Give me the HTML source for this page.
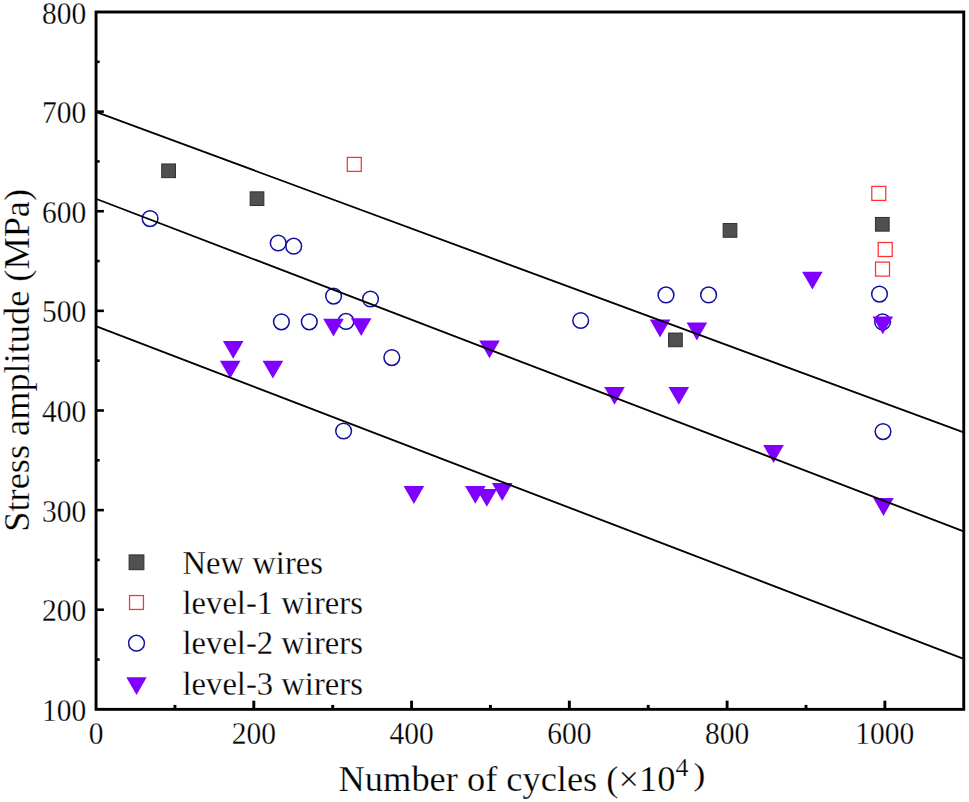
<!DOCTYPE html>
<html><head><meta charset="utf-8"><style>
html,body{margin:0;padding:0;background:#fff;}
body{width:969px;height:802px;overflow:hidden;}
svg{display:block;font-family:"Liberation Serif",serif;}
text{stroke:#fff;stroke-width:0.25px;}
</style></head><body>
<svg width="969" height="802" viewBox="0 0 969 802">
<rect x="96.05" y="12.0" width="867.70" height="697.35" fill="none" stroke="#000" stroke-width="2.9"/>
<line x1="174.93" y1="709.35" x2="174.93" y2="704.90" stroke="#000" stroke-width="2.9"/>
<line x1="253.81" y1="709.35" x2="253.81" y2="700.65" stroke="#000" stroke-width="2.9"/>
<line x1="332.70" y1="709.35" x2="332.70" y2="704.90" stroke="#000" stroke-width="2.9"/>
<line x1="411.58" y1="709.35" x2="411.58" y2="700.65" stroke="#000" stroke-width="2.9"/>
<line x1="490.46" y1="709.35" x2="490.46" y2="704.90" stroke="#000" stroke-width="2.9"/>
<line x1="569.34" y1="709.35" x2="569.34" y2="700.65" stroke="#000" stroke-width="2.9"/>
<line x1="648.22" y1="709.35" x2="648.22" y2="704.90" stroke="#000" stroke-width="2.9"/>
<line x1="727.10" y1="709.35" x2="727.10" y2="700.65" stroke="#000" stroke-width="2.9"/>
<line x1="805.99" y1="709.35" x2="805.99" y2="704.90" stroke="#000" stroke-width="2.9"/>
<line x1="884.87" y1="709.35" x2="884.87" y2="700.65" stroke="#000" stroke-width="2.9"/>
<line x1="96.05" y1="659.54" x2="99.65" y2="659.54" stroke="#000" stroke-width="2.6"/>
<line x1="96.05" y1="609.73" x2="103.90" y2="609.73" stroke="#000" stroke-width="2.6"/>
<line x1="96.05" y1="559.92" x2="99.65" y2="559.92" stroke="#000" stroke-width="2.6"/>
<line x1="96.05" y1="510.11" x2="103.90" y2="510.11" stroke="#000" stroke-width="2.6"/>
<line x1="96.05" y1="460.30" x2="99.65" y2="460.30" stroke="#000" stroke-width="2.6"/>
<line x1="96.05" y1="410.49" x2="103.90" y2="410.49" stroke="#000" stroke-width="2.6"/>
<line x1="96.05" y1="360.68" x2="99.65" y2="360.68" stroke="#000" stroke-width="2.6"/>
<line x1="96.05" y1="310.86" x2="103.90" y2="310.86" stroke="#000" stroke-width="2.6"/>
<line x1="96.05" y1="261.05" x2="99.65" y2="261.05" stroke="#000" stroke-width="2.6"/>
<line x1="96.05" y1="211.24" x2="103.90" y2="211.24" stroke="#000" stroke-width="2.6"/>
<line x1="96.05" y1="161.43" x2="99.65" y2="161.43" stroke="#000" stroke-width="2.6"/>
<line x1="96.05" y1="111.62" x2="103.90" y2="111.62" stroke="#000" stroke-width="2.6"/>
<line x1="96.05" y1="61.81" x2="99.65" y2="61.81" stroke="#000" stroke-width="2.6"/>
<rect x="161.75" y="163.95" width="13.70" height="13.70" fill="#505050" stroke="#2e2e2e" stroke-width="1"/>
<rect x="250.15" y="191.85" width="13.70" height="13.70" fill="#505050" stroke="#2e2e2e" stroke-width="1"/>
<rect x="723.15" y="223.55" width="13.70" height="13.70" fill="#505050" stroke="#2e2e2e" stroke-width="1"/>
<rect x="668.55" y="333.05" width="13.70" height="13.70" fill="#505050" stroke="#2e2e2e" stroke-width="1"/>
<rect x="875.45" y="217.45" width="13.70" height="13.70" fill="#505050" stroke="#2e2e2e" stroke-width="1"/>
<rect x="347.30" y="157.40" width="14.00" height="14.00" fill="none" stroke="#ff3030" stroke-width="1.25"/>
<rect x="871.80" y="186.40" width="14.00" height="14.00" fill="none" stroke="#ff3030" stroke-width="1.25"/>
<rect x="878.20" y="242.50" width="14.00" height="14.00" fill="none" stroke="#ff3030" stroke-width="1.25"/>
<rect x="875.50" y="262.10" width="14.00" height="14.00" fill="none" stroke="#ff3030" stroke-width="1.25"/>
<circle cx="150.10" cy="218.60" r="7.85" fill="none" stroke="#1010a0" stroke-width="1.5"/>
<circle cx="278.20" cy="243.00" r="7.85" fill="none" stroke="#1010a0" stroke-width="1.5"/>
<circle cx="293.70" cy="246.20" r="7.85" fill="none" stroke="#1010a0" stroke-width="1.5"/>
<circle cx="333.60" cy="296.10" r="7.85" fill="none" stroke="#1010a0" stroke-width="1.5"/>
<circle cx="370.50" cy="299.00" r="7.85" fill="none" stroke="#1010a0" stroke-width="1.5"/>
<circle cx="281.40" cy="321.80" r="7.85" fill="none" stroke="#1010a0" stroke-width="1.5"/>
<circle cx="309.30" cy="321.80" r="7.85" fill="none" stroke="#1010a0" stroke-width="1.5"/>
<circle cx="346.00" cy="321.40" r="7.85" fill="none" stroke="#1010a0" stroke-width="1.5"/>
<circle cx="391.80" cy="357.60" r="7.85" fill="none" stroke="#1010a0" stroke-width="1.5"/>
<circle cx="343.60" cy="431.00" r="7.85" fill="none" stroke="#1010a0" stroke-width="1.5"/>
<circle cx="580.70" cy="320.50" r="7.85" fill="none" stroke="#1010a0" stroke-width="1.5"/>
<circle cx="666.00" cy="294.90" r="7.85" fill="none" stroke="#1010a0" stroke-width="1.5"/>
<circle cx="708.60" cy="294.90" r="7.85" fill="none" stroke="#1010a0" stroke-width="1.5"/>
<circle cx="879.50" cy="294.10" r="7.85" fill="none" stroke="#1010a0" stroke-width="1.5"/>
<circle cx="882.60" cy="321.90" r="7.85" fill="none" stroke="#1010a0" stroke-width="1.5"/>
<circle cx="883.00" cy="431.60" r="7.85" fill="none" stroke="#1010a0" stroke-width="1.5"/>
<polygon points="323.20,318.70 343.80,318.70 333.50,336.50" fill="#8000ff"/>
<polygon points="350.90,318.20 371.50,318.20 361.20,336.00" fill="#8000ff"/>
<polygon points="222.90,340.90 243.50,340.90 233.20,358.70" fill="#8000ff"/>
<polygon points="219.90,360.70 240.50,360.70 230.20,378.50" fill="#8000ff"/>
<polygon points="262.60,360.70 283.20,360.70 272.90,378.50" fill="#8000ff"/>
<polygon points="479.20,340.50 499.80,340.50 489.50,358.30" fill="#8000ff"/>
<polygon points="403.60,486.10 424.20,486.10 413.90,503.90" fill="#8000ff"/>
<polygon points="465.00,486.00 485.60,486.00 475.30,503.80" fill="#8000ff"/>
<polygon points="476.50,489.00 497.10,489.00 486.80,506.80" fill="#8000ff"/>
<polygon points="491.90,483.10 512.50,483.10 502.20,500.90" fill="#8000ff"/>
<polygon points="802.10,271.80 822.70,271.80 812.40,289.60" fill="#8000ff"/>
<polygon points="649.80,319.60 670.40,319.60 660.10,337.40" fill="#8000ff"/>
<polygon points="686.60,322.60 707.20,322.60 696.90,340.40" fill="#8000ff"/>
<polygon points="604.20,386.90 624.80,386.90 614.50,404.70" fill="#8000ff"/>
<polygon points="668.50,386.90 689.10,386.90 678.80,404.70" fill="#8000ff"/>
<polygon points="763.20,445.10 783.80,445.10 773.50,462.90" fill="#8000ff"/>
<polygon points="872.50,316.40 893.10,316.40 882.80,334.20" fill="#8000ff"/>
<polygon points="873.20,498.10 893.80,498.10 883.50,515.90" fill="#8000ff"/>
<line x1="96.5" y1="112.2" x2="963" y2="432.2" stroke="#000" stroke-width="1.85"/>
<line x1="96.5" y1="199" x2="963" y2="531.1" stroke="#000" stroke-width="1.85"/>
<line x1="96.5" y1="326.4" x2="963" y2="658.6" stroke="#000" stroke-width="1.85"/>
<text transform="translate(96.05,744.0) scale(1,1.035)" text-anchor="middle" font-size="29.5">0</text>
<text transform="translate(253.81,744.0) scale(1,1.035)" text-anchor="middle" font-size="29.5">200</text>
<text transform="translate(411.58,744.0) scale(1,1.035)" text-anchor="middle" font-size="29.5">400</text>
<text transform="translate(569.34,744.0) scale(1,1.035)" text-anchor="middle" font-size="29.5">600</text>
<text transform="translate(727.10,744.0) scale(1,1.035)" text-anchor="middle" font-size="29.5">800</text>
<text transform="translate(884.87,744.0) scale(1,1.035)" text-anchor="middle" font-size="29.5">1000</text>
<text transform="translate(86.3,720.85) scale(1,1.035)" text-anchor="end" font-size="29.5">100</text>
<text transform="translate(86.3,621.23) scale(1,1.035)" text-anchor="end" font-size="29.5">200</text>
<text transform="translate(86.3,521.61) scale(1,1.035)" text-anchor="end" font-size="29.5">300</text>
<text transform="translate(86.3,421.99) scale(1,1.035)" text-anchor="end" font-size="29.5">400</text>
<text transform="translate(86.3,322.36) scale(1,1.035)" text-anchor="end" font-size="29.5">500</text>
<text transform="translate(86.3,222.74) scale(1,1.035)" text-anchor="end" font-size="29.5">600</text>
<text transform="translate(86.3,123.12) scale(1,1.035)" text-anchor="end" font-size="29.5">700</text>
<text transform="translate(86.3,23.50) scale(1,1.035)" text-anchor="end" font-size="29.5">800</text>
<rect x="129.10" y="554.90" width="14.80" height="14.80" fill="#505050" stroke="#2e2e2e" stroke-width="1"/>
<rect x="129.55" y="595.55" width="13.90" height="13.90" fill="none" stroke="#ff3030" stroke-width="1.25"/>
<circle cx="136.50" cy="643.20" r="7.90" fill="none" stroke="#1010a0" stroke-width="1.5"/>
<polygon points="126.30,677.30 146.70,677.30 136.50,694.90" fill="#8000ff"/>
<text transform="translate(182.5,573.8) scale(1,1.035)" font-size="32.65">New wires</text>
<text transform="translate(182.5,614.4) scale(1,1.035)" font-size="32.65">level-1 wirers</text>
<text transform="translate(182.5,654.2) scale(1,1.035)" font-size="32.65">level-2 wirers</text>
<text transform="translate(182.5,695.0) scale(1,1.035)" font-size="32.65">level-3 wirers</text>
<text x="338.6" y="791" font-size="36.4">Number of cycles (×10<tspan font-size="26" dy="-15.5">4</tspan></text>
<text transform="translate(693.3,784.5) scale(1,0.88)" font-size="36.4">)</text>
<text transform="translate(28.8,531.7) rotate(-90)" font-size="36.3">Stress amplitude (MPa)</text>
</svg>
</body></html>
